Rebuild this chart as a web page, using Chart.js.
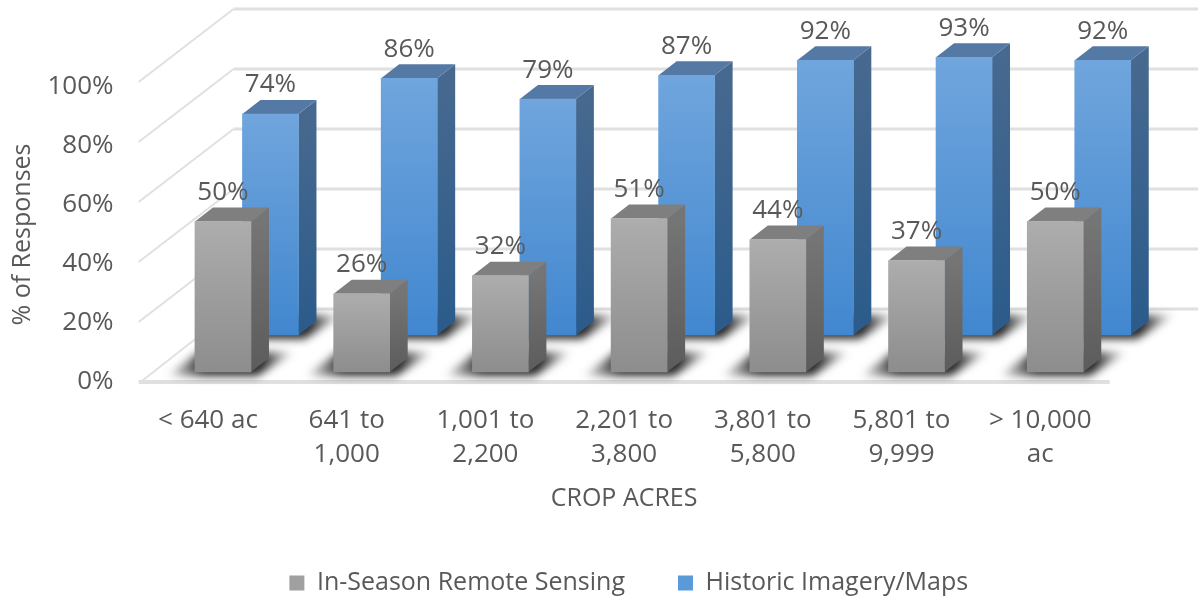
<!DOCTYPE html>
<html>
<head>
<meta charset="utf-8">
<style>
  html, body { margin: 0; background: #fff; }
  canvas { display: block; }
</style>
<script src="https://cdn.jsdelivr.net/npm/chart.js@4"></script>
</head>
<body>
<canvas id="chart" width="1198" height="598"></canvas>
<script>
/* ── Data ── */
const CATEGORIES = [
  '< 640 ac', ['641 to', '1,000'], ['1,001 to', '2,200'], ['2,201 to', '3,800'],
  ['3,801 to', '5,800'], ['5,801 to', '9,999'], ['> 10,000', 'ac'],
];
const REMOTE_SENSING = [50, 26, 32, 51, 44, 37, 50];
const HISTORIC_MAPS  = [74, 86, 79, 87, 92, 93, 92];
const SERIES_NAMES   = ['In-Season Remote Sensing', 'Historic Imagery/Maps'];
const Y_TICKS        = [0, 20, 40, 60, 80, 100];

/* ── Constants ── */
const FONT = '"Open Sans", sans-serif';
const TEXT = '#595959';
const GRID = '#e0e0e0';
const DEPTH_X = 18, DEPTH_Y = 14;      // bar depth
const WALL_X = 95, WALL_Y = 73;        // floor depth

const LOOK = [
  { dx: 15,   dy: -10, top: '#7f7f7f', sideA: '#757575', sideB: '#5c5c5c', faceA: '#adadad', faceB: '#8d8d8d', solid: '#a0a0a0' },
  { dx: 62.5, dy: -47, top: '#5479a5', sideA: '#47698f', sideB: '#2b5b8b', faceA: '#70a5dd', faceB: '#4187cf', solid: '#5b9ad8' },
];

function faceFill(i) {
  return ctx => {
    const look = LOOK[i];
    if (ctx.dataIndex === undefined || !ctx.chart.chartArea) return look.solid;
    const scale = ctx.chart.scales[ctx.dataset.yAxisID];
    const top = scale.getPixelForValue(ctx.dataset.data[ctx.dataIndex]);
    const g = ctx.chart.ctx.createLinearGradient(0, top, 0, scale.bottom);
    g.addColorStop(0, look.faceA);
    g.addColorStop(1, look.faceB);
    return g;
  };
}

function poly(c, pts, fill) {
  c.beginPath();
  pts.forEach((p, i) => i ? c.lineTo(p[0], p[1]) : c.moveTo(p[0], p[1]));
  c.closePath();
  c.fillStyle = fill;
  c.fill();
}

/* ── Floor and walls ── */
const wallPlugin = {
  id: 'wall',
  beforeDatasetsDraw(chart) {
    const { ctx: c, scales } = chart;
    const left = scales.x.left, right = scales.x.right;
    c.save();
    c.strokeStyle = GRID;
    Y_TICKS.forEach(v => {
      const y = 382 - 3 * v;
      c.lineWidth = 2;
      c.beginPath();
      c.moveTo(left + (v ? 0 : 2), y);
      c.lineTo(left + WALL_X, y - WALL_Y);
      c.stroke();
      c.lineWidth = 3;
      c.beginPath();
      c.moveTo(left + WALL_X, y - WALL_Y);
      c.lineTo(1198, y - WALL_Y);
      c.stroke();
    });
    c.lineWidth = 4;
    c.beginPath();
    c.moveTo(left, 382);
    c.lineTo(right, 382);
    c.stroke();
    c.restore();
  },
};

/* ── 3D sides, shifted series ── */
const depthPlugin = {
  id: 'depth',
  beforeDatasetDraw(chart, args) {
    const c = chart.ctx;
    const look = LOOK[args.index];
    c.save();
    c.translate(look.dx, look.dy);
    args.meta.data.forEach(bar => {
      const L = bar.x - bar.width / 2, R = bar.x + bar.width / 2, T = bar.y, B = bar.base;

      // floor shadow
      c.save();
      c.filter = 'blur(4px)';
      const sh = c.createLinearGradient(L - 30, 0, R + 44, 0);
      sh.addColorStop(0, 'rgba(40,40,40,0)');
      sh.addColorStop(0.3, 'rgba(40,40,40,1)');
      sh.addColorStop(0.74, 'rgba(40,40,40,1)');
      sh.addColorStop(1, 'rgba(40,40,40,0)');
      poly(c, [[L - 28, B + 4], [R + 6, B + 4], [R + 44, B - 20], [L + 4, B - 20]], sh);
      c.restore();

      const side = c.createLinearGradient(0, T, 0, B);
      side.addColorStop(0, look.sideA);
      side.addColorStop(1, look.sideB);
      poly(c, [[R, T], [R + DEPTH_X, T - DEPTH_Y], [R + DEPTH_X, B - DEPTH_Y], [R, B]], side);
      poly(c, [[L, T], [L + DEPTH_X, T - DEPTH_Y], [R + DEPTH_X, T - DEPTH_Y], [R, T]], look.top);
    });
  },
  afterDatasetDraw(chart) {
    chart.ctx.restore();
  },
};

/* ── Value labels above the bars ── */
const valuePlugin = {
  id: 'values',
  afterDatasetsDraw(chart) {
    const c = chart.ctx;
    [1, 0].forEach(i => {
      const look = LOOK[i];
      const values = chart.data.datasets[i].data;
      chart.getDatasetMeta(i).data.forEach((bar, j) => {
        c.save();
        c.font = '26px ' + FONT;
        c.fillStyle = TEXT;
        c.textAlign = 'center';
        c.textBaseline = 'middle';
        c.fillText(values[j] + '%', bar.x + look.dx, bar.y + look.dy - 29);
        c.restore();
      });
    });
  },
};

/* ── Move legend to where the picture has it ── */
const legendShift = {
  id: 'legendShift',
  afterLayout(chart) {
    chart.legend.left += 74;
    chart.legend.right += 74;
    chart.legend.top = 583 - 53 - 12.5;
  },
};

new Chart(document.getElementById('chart'), {
  type: 'bar',
  plugins: [wallPlugin, depthPlugin, valuePlugin, legendShift],
  data: {
    labels: CATEGORIES,
    datasets: [
      { label: SERIES_NAMES[0], data: REMOTE_SENSING, yAxisID: 'yGrey', backgroundColor: faceFill(0) },
      { label: SERIES_NAMES[1], data: HISTORIC_MAPS,  yAxisID: 'yBlue', backgroundColor: faceFill(1) },
    ],
  },
  options: {
    responsive: false,
    animation: false,
    clip: false,
    grouped: false,
    barThickness: 56,
    layout: { padding: { top: 87, right: 88.4, left: 0, bottom: 0 } },
    plugins: {
      tooltip: { enabled: false },
      legend: {
        position: 'bottom',
        labels: {
          color: TEXT,
          font: { family: FONT, size: 25 },
          boxWidth: 15,
          boxHeight: 15,
          padding: 53,
          generateLabels(chart) {
            const items = Chart.defaults.plugins.legend.labels.generateLabels(chart);
            items.forEach((item, i) => { item.fillStyle = LOOK[i].solid; });
            return items;
          },
        },
      },
    },
    scales: {
      x: {
        grid: { display: false },
        border: { display: false },
        ticks: {
          color: TEXT,
          maxRotation: 0,
          autoSkip: false,
          padding: 14,
          font: { family: FONT, size: 26, lineHeight: 1.3 },
        },
        title: {
          display: true,
          text: 'CROP ACRES',
          color: TEXT,
          font: { family: FONT, size: 25 },
          padding: { top: 0, bottom: -4 },
        },
        afterFit(scale) { scale.height = 128; },
      },
      y: {
        min: 0,
        max: 100,
        grid: { display: false },
        border: { display: false },
        ticks: {
          color: TEXT,
          stepSize: 20,
          padding: 17,
          callback: v => v + '%',
          font: { family: FONT, size: 26 },
        },
        title: {
          display: true,
          text: '% of Responses',
          color: TEXT,
          font: { family: FONT, size: 25 },
          padding: { top: 8, bottom: 0 },
        },
        afterFit(scale) { scale.width = 138.6; },
      },
      yBlue: { display: false, min: 0, max: 98.8 },
      yGrey: { display: false, min: 0, max: 98 },
    },
  },
});
</script>
</body>
</html>
